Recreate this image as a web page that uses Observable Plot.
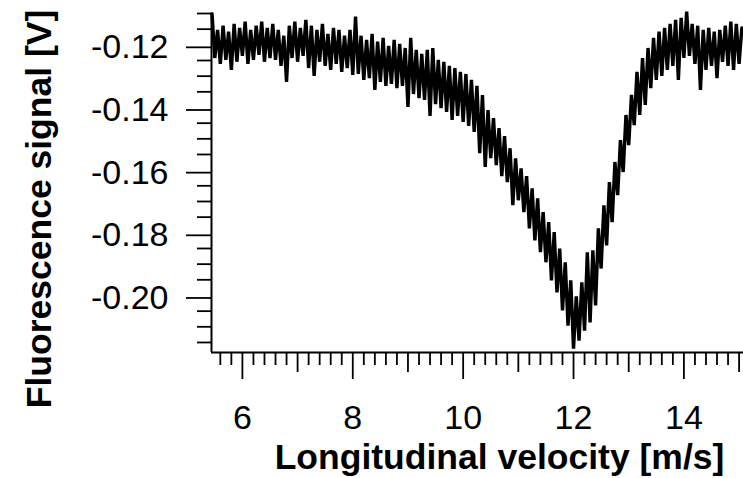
<!DOCTYPE html>
<html><head><meta charset="utf-8">
<script src="https://cdn.jsdelivr.net/npm/d3@7"></script>
<script src="https://cdn.jsdelivr.net/npm/@observablehq/plot@0.6"></script>
<style>html,body{margin:0;padding:0;background:#fff} #chart svg{display:block}</style>
</head><body><div id="chart"></div>
<script>
// Sampling grid of the trace (velocity in m/s)
const velocityStart = 5.45;
const velocityStep = 0.05;
// Fluorescence signal [V] (alternating upper/lower excursions of the noisy trace)
const signal = [
-0.1101,-0.1242,-0.1152,-0.1261,-0.1139,-0.1248,-0.1158,-0.1280,-0.1133,-0.1254,
-0.1146,-0.1235,-0.1126,-0.1261,-0.1152,-0.1248,-0.1139,-0.1232,-0.1126,-0.1254,
-0.1146,-0.1242,-0.1133,-0.1248,-0.1152,-0.1267,-0.1171,-0.1318,-0.1139,-0.1242,
-0.1126,-0.1254,-0.1146,-0.1235,-0.1120,-0.1274,-0.1139,-0.1299,-0.1152,-0.1254,
-0.1133,-0.1267,-0.1165,-0.1280,-0.1146,-0.1261,-0.1152,-0.1286,-0.1171,-0.1274,
-0.1152,-0.1296,-0.1110,-0.1293,-0.1171,-0.1312,-0.1184,-0.1306,-0.1165,-0.1344,
-0.1190,-0.1318,-0.1178,-0.1331,-0.1203,-0.1325,-0.1184,-0.1338,-0.1197,-0.1331,
-0.1210,-0.1398,-0.1178,-0.1357,-0.1216,-0.1370,-0.1229,-0.1376,-0.1216,-0.1427,
-0.1210,-0.1389,-0.1248,-0.1402,-0.1254,-0.1414,-0.1267,-0.1440,-0.1274,-0.1427,
-0.1286,-0.1446,-0.1293,-0.1459,-0.1312,-0.1478,-0.1331,-0.1546,-0.1360,-0.1590,
-0.1408,-0.1562,-0.1434,-0.1584,-0.1466,-0.1619,-0.1491,-0.1638,-0.1530,-0.1712,
-0.1562,-0.1696,-0.1594,-0.1734,-0.1619,-0.1786,-0.1658,-0.1824,-0.1690,-0.1862,
-0.1734,-0.1894,-0.1766,-0.1952,-0.1798,-0.1990,-0.1850,-0.2048,-0.1894,-0.2096,
-0.1952,-0.2170,-0.2003,-0.2144,-0.1958,-0.2112,-0.1862,-0.2086,-0.1856,-0.2032,
-0.1786,-0.1914,-0.1712,-0.1840,-0.1638,-0.1766,-0.1574,-0.1680,-0.1504,-0.1606,
-0.1424,-0.1520,-0.1360,-0.1456,-0.1286,-0.1424,-0.1242,-0.1392,-0.1210,-0.1338,
-0.1178,-0.1312,-0.1158,-0.1299,-0.1146,-0.1280,-0.1133,-0.1267,-0.1120,-0.1312,
-0.1114,-0.1242,-0.1094,-0.1235,-0.1133,-0.1261,-0.1139,-0.1344,-0.1152,-0.1280,
-0.1146,-0.1267,-0.1158,-0.1306,-0.1152,-0.1254,-0.1139,-0.1267,-0.1126,-0.1280,
-0.1133,-0.1261,-0.1146
];
const xDomain = [5.44, 15.08];
const yDomain = [-0.2182, -0.11];
const xMajorTicks = [6, 8, 10, 12, 14];
const xMidTicks = [7, 9, 11, 13, 15];
const xMinorTicks = [5.6, 5.8, 6.2, 6.4, 6.6, 6.8, 7.2, 7.4, 7.6, 7.8, 8.2, 8.4, 8.6, 8.8,
  9.2, 9.4, 9.6, 9.8, 10.2, 10.4, 10.6, 10.8, 11.2, 11.4, 11.6, 11.8, 12.2, 12.4, 12.6, 12.8,
  13.2, 13.4, 13.6, 13.8, 14.2, 14.4, 14.6, 14.8];
const yMajorTicks = [-0.12, -0.14, -0.16, -0.18, -0.20];
const yMinorTicks = [-0.11, -0.115, -0.125, -0.13, -0.135, -0.145, -0.15, -0.155, -0.165,
  -0.17, -0.175, -0.185, -0.19, -0.195, -0.205, -0.21, -0.215];
const xLabel = "Longitudinal velocity [m/s]";
const yLabel = "Fluorescence signal [V]";

const data = signal.map((v, i) => ({velocity: velocityStart + i * velocityStep, signal: v}));

const chart = Plot.plot({
  width: 743,
  height: 478,
  marginLeft: 211,
  marginRight: 0,
  marginTop: 13,
  marginBottom: 126,
  style: {fontFamily: '"Liberation Sans", Arial, Helvetica, sans-serif', color: "#000", background: "#fff", overflow: "visible"},
  x: {domain: xDomain},
  y: {domain: yDomain},
  marks: [
    Plot.axisX(xMinorTicks, {tickSize: 13, strokeWidth: 1.8, text: null, label: null}),
    Plot.axisX(xMidTicks, {tickSize: 20, strokeWidth: 1.8, text: null, label: null}),
    Plot.axisX(xMajorTicks, {tickSize: 27, strokeWidth: 1.8, tickPadding: 25, fontSize: 34, tickFormat: d => String(d), label: null}),
    Plot.axisY(yMinorTicks, {tickSize: 14, strokeWidth: 1.8, text: null, label: null}),
    Plot.axisY(yMajorTicks, {tickSize: 25, strokeWidth: 1.8, tickPadding: 18, fontSize: 34, dy: 2.5, tickFormat: d => d.toFixed(2), label: null}),
    Plot.ruleX([xDomain[0]], {stroke: "#000", strokeWidth: 2}),
    Plot.ruleY([yDomain[0]], {stroke: "#000", strokeWidth: 2}),
    Plot.line(data, {x: "velocity", y: "signal", stroke: "#000", strokeWidth: 3.4, strokeLinejoin: "miter", strokeMiterlimit: 2}),
    Plot.text([xLabel], {text: d => d, frameAnchor: "bottom", textAnchor: "middle", dx: 22, dy: 105, fontSize: 35.5, fontWeight: "bold", lineAnchor: "middle", fill: "#000"}),
    Plot.text([yLabel], {text: d => d, frameAnchor: "left", textAnchor: "middle", rotate: -90, dx: -172, dy: 26, fontSize: 35.5, fontWeight: "bold", lineAnchor: "middle", fill: "#000"})
  ]
});
document.getElementById("chart").appendChild(chart);
</script>
</body></html>
